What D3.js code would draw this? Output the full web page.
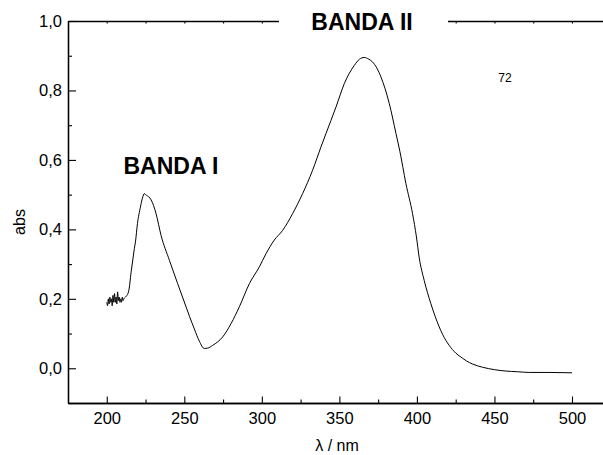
<!DOCTYPE html>
<html>
<head>
<meta charset="utf-8">
<script src="https://cdn.jsdelivr.net/npm/d3@7/dist/d3.min.js"></script>
<style>
  html, body { margin: 0; padding: 0; background: #fff; }
  svg { display: block; }
  text { font-family: "Liberation Sans", Arial, sans-serif; fill: #000; }
</style>
</head>
<body>
<svg id="chart" width="603" height="455"></svg>
<script>
// ---- data ----
const waveNm = [200,200.5,201,201.5,202,202.5,203,203.5,204,204.5,205,205.5,206,206.5,207,207.5,208,208.5,209,209.5,210,210.5,211,212,213,214,214.6,215.5,216.6,217.8,218.5,219.8,221.7,223,224.3,225,225.6,227,228.6,231.8,235,240.4,245.7,251.2,253.3,256.5,259.7,262.9,265,268.3,274.7,280.2,285.5,292,298.4,302.7,308,313.4,319.8,326.3,332.7,338.1,344.6,347.8,353.2,359.6,363,366,369,371.4,376.8,382.2,386.5,389,392.9,397.2,399.7,401.5,404.7,409,414.4,416.5,420.8,425,429.4,432,436,442.3,450,457.3,465,472.4,485.2,500];
const absVals = [0.19,0.18,0.2,0.185,0.205,0.19,0.2,0.18,0.21,0.19,0.215,0.19,0.205,0.185,0.22,0.195,0.205,0.19,0.2,0.19,0.205,0.195,0.2,0.205,0.21,0.22,0.234,0.27,0.306,0.345,0.364,0.417,0.464,0.49,0.503,0.5,0.498,0.494,0.485,0.445,0.383,0.311,0.244,0.176,0.15,0.113,0.078,0.057,0.058,0.066,0.09,0.129,0.177,0.244,0.292,0.33,0.369,0.397,0.445,0.503,0.57,0.637,0.714,0.752,0.82,0.872,0.89,0.895,0.89,0.882,0.839,0.762,0.676,0.625,0.532,0.445,0.378,0.318,0.253,0.186,0.119,0.098,0.066,0.044,0.029,0.021,0.012,0.003,-0.004,-0.008,-0.01,-0.012,-0.012,-0.013];
const xMajorTicks = [200,250,300,350,400,450,500];
const xMinorTicks = [225,275,325,375,425,475];
const xTopTicks = [200,225,250,275,300,325,350,375,400,425,450,475,500];
const yMajorTicks = [0,0.2,0.4,0.6,0.8,1.0];
const yMinorTicks = [-0.1,0.1,0.3,0.5,0.7,0.9];
const xDomain = [175,520];
const yDomain = [-0.1,1.0];
const labelBand1 = "BANDA I";
const labelBand2 = "BANDA II";
const sampleLabel = "72";
const xTitle = "λ / nm";
const yTitle = "abs";

// ---- drawing ----
const svg = d3.select("#chart");
const L = 68, R = 603, T = 21, B = 403;
const x = d3.scaleLinear().domain(xDomain).range([L, R]);
const y = d3.scaleLinear().domain(yDomain).range([B, T]);
const fmt = d => d3.format(".1f")(d).replace(".", ",");

function styleAxis(g) {
  g.selectAll("path.domain").attr("stroke", "#000").attr("stroke-width", 1.3);
  g.selectAll(".tick line").attr("stroke", "#000").attr("stroke-width", 1.1);
  g.selectAll(".tick text").style("font-family", '"Liberation Sans", Arial, sans-serif')
    .style("font-size", "16.5px").attr("fill", "#000");
}

// bottom axis
svg.append("g").attr("transform", `translate(0,${B})`)
  .call(d3.axisBottom(x).tickValues(xMinorTicks).tickSize(-3.5).tickSizeOuter(0).tickFormat(""))
  .call(styleAxis);
svg.append("g").attr("transform", `translate(0,${B})`)
  .call(d3.axisBottom(x).tickValues(xMajorTicks).tickSize(-6.5).tickSizeOuter(0).tickPadding(9).tickFormat(d3.format("d")))
  .call(styleAxis);

// left axis
svg.append("g").attr("transform", `translate(${L},0)`)
  .call(d3.axisLeft(y).tickValues(yMinorTicks).tickSize(-4).tickSizeOuter(0).tickFormat(""))
  .call(styleAxis);
svg.append("g").attr("transform", `translate(${L},0)`)
  .call(d3.axisLeft(y).tickValues(yMajorTicks).tickSize(-8).tickSizeOuter(0).tickPadding(6).tickFormat(fmt))
  .call(styleAxis);

// top axis
svg.append("g").attr("transform", `translate(0,${T})`)
  .call(d3.axisTop(x).tickValues(xTopTicks).tickSize(-2.5).tickSizeOuter(0).tickFormat(""))
  .call(styleAxis);

// curve
const pts = waveNm.map((w, i) => [w, absVals[i]]);
svg.append("path")
  .datum(pts)
  .attr("fill", "none")
  .attr("stroke", "#000")
  .attr("stroke-width", 1)
  .attr("stroke-linejoin", "round")
  .attr("d", d3.line().x(d => x(d[0])).y(d => y(d[1])).curve(d3.curveMonotoneX));

// band II label with white backing over the top axis
svg.append("rect").attr("x", 279).attr("y", 8).attr("width", 169).attr("height", 26).attr("fill", "#fff");
svg.append("text").attr("x", 362).attr("y", 30).attr("text-anchor", "middle")
  .style("font-size", "23px").style("font-weight", "bold").text(labelBand2);
svg.append("text").attr("x", 171).attr("y", 174).attr("text-anchor", "middle")
  .style("font-size", "23px").style("font-weight", "bold").text(labelBand1);
svg.append("text").attr("x", 505).attr("y", 82).attr("text-anchor", "middle")
  .style("font-size", "12px").text(sampleLabel);

// axis titles
svg.append("text").attr("x", 337).attr("y", 451).attr("text-anchor", "middle")
  .style("font-size", "16px").text(xTitle);
svg.append("text").attr("transform", "translate(25,222) rotate(-90)").attr("text-anchor", "middle")
  .style("font-size", "16px").text(yTitle);
</script>
</body>
</html>
